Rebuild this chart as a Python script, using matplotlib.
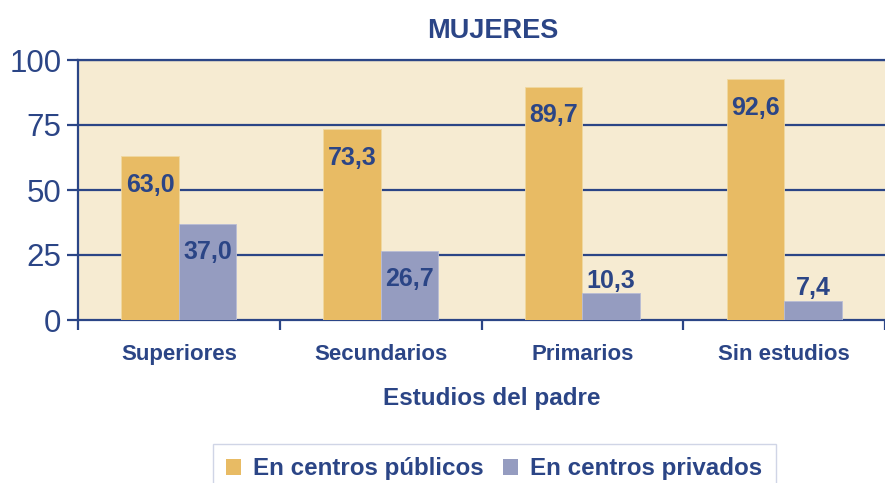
import numpy as np
import matplotlib
matplotlib.use('Agg')
import matplotlib.pyplot as plt
from matplotlib.patches import Patch

plt.rcParams['font.family'] = ['Liberation Sans', 'DejaVu Sans']

# data
categories = ['Superiores', 'Secundarios', 'Primarios', 'Sin estudios']
publicos = [63.0, 73.3, 89.7, 92.6]
privados = [37.0, 26.7, 10.3, 7.4]
series_names = ['En centros públicos', 'En centros privados']
yticks = [0, 25, 50, 75, 100]

navy = '#2b4586'
c_pub = '#e8bb64'
c_priv = '#959cc0'
bg = '#f6ebd2'

fig = plt.figure(figsize=(8.85, 4.83), dpi=100)
ax = fig.add_axes([78/885, 163/483, 807/885, 260/483])
ax.set_facecolor(bg)

x = np.arange(len(categories))
w = 0.285
b1 = ax.bar(x - w/2, publicos, w, color=c_pub, edgecolor='#f0d8a0', linewidth=0.6, zorder=3)
b2 = ax.bar(x + w/2, privados, w, color=c_priv, edgecolor='#b8bcd6', linewidth=0.6, zorder=3)

def label(bars, vals):
    for bar, v in zip(bars, vals):
        y = v - 11 if v > 20 else v + 4.8
        ax.text(bar.get_x() + bar.get_width()/2, y, f'{v:.1f}'.replace('.', ','),
                ha='center', va='center', fontsize=18, fontweight='bold',
                color=navy, zorder=4)

label(b1, publicos)
label(b2, privados)

ax.set_xlim(-0.5, -0.5 + 807/204.5)
ax.set_ylim(0, 100)
ax.set_yticks(yticks)
ax.set_yticklabels([str(t) for t in yticks])
for t in yticks[1:]:
    ax.axhline(t, color=navy, linewidth=1.6, zorder=1)

ax.set_xticks(x)
ax.set_xticklabels(categories, fontsize=16, fontweight='bold', color=navy)
ax.set_xticks(np.arange(-0.5, len(categories), 1), minor=True)
ax.tick_params(axis='x', which='major', length=0, pad=17)
ax.tick_params(axis='x', which='minor', length=7, width=1.6, color=navy)
ax.tick_params(axis='y', length=8, width=1.6, color=navy, labelcolor=navy,
               labelsize=22.5, pad=4)

for s in ['left', 'bottom', 'top']:
    ax.spines[s].set_color(navy)
    ax.spines[s].set_linewidth(1.6)
ax.spines['right'].set_visible(False)

fig.text(493/885, 1 - 31/483, 'MUJERES', ha='center', va='center',
         fontsize=19.5, fontweight='bold', color=navy)
fig.text(492/885, 1 - 398/483, 'Estudios del padre', ha='center', va='center',
         fontsize=17.5, fontweight='bold', color=navy)

handles = [Patch(facecolor=c_pub, edgecolor='none'),
           Patch(facecolor=c_priv, edgecolor='none')]
leg = fig.legend(handles, series_names, loc='upper left',
                 bbox_to_anchor=(213/885, 1 - 444/483), ncol=2,
                 prop={'size': 17.4, 'weight': 'bold'}, frameon=True,
                 fancybox=False, handlelength=0.62, handleheight=0.62,
                 handletextpad=0.5, columnspacing=0.8, borderpad=0.55,
                 borderaxespad=0)
leg.get_frame().set_edgecolor('#c5cbe0')
leg.get_frame().set_linewidth(1.0)
for t in leg.get_texts():
    t.set_color(navy)

fig.savefig('out.png', dpi=100)
